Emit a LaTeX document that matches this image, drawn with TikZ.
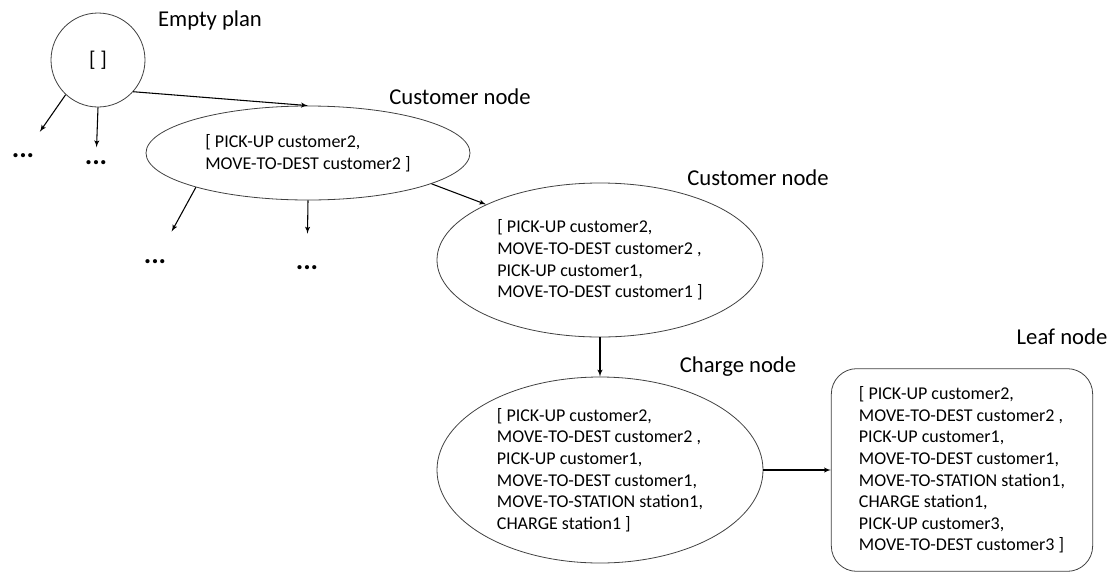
\documentclass[tikz,border=0pt]{standalone}
\usepackage{fontspec}
\setmainfont{Carlito}
\usetikzlibrary{arrows,shapes.geometric}
\newcommand{\plantext}{\fontsize{13.5}{16.2}\selectfont}
\newcommand{\labeltext}{\fontsize{17}{20}\selectfont}
\begin{document}
\begin{tikzpicture}[x=0.75pt,y=-0.75pt]
   \tikzstyle{line} = [-latex', line width=0.8pt]
   \tikzstyle{plan} = [ellipse, draw=black!75, line width=0.6pt, inner sep=0pt, align=left, font=\plantext]
   \tikzstyle{tag} = [font=\labeltext, inner sep=0pt]
   \tikzstyle{more} = [font=\fontsize{21}{24}\selectfont\bfseries, inner sep=0pt]
   \useasboundingbox (0,0) rectangle (1115,572);

   \node [circle, draw=black!75, line width=0.6pt, minimum size=70.5pt, inner sep=0pt,
          font=\fontsize{16}{19}\selectfont] (empty) at (98,60) {[ ]};
   \node [plan, minimum width=243pt, minimum height=70.5pt] (cust1) at (308,153)
      {[ PICK-UP customer2,\\MOVE-TO-DEST customer2 ]};
   \node [plan, minimum width=244.5pt, minimum height=115.5pt] (cust2) at (600,260)
      {[ PICK-UP customer2,\\MOVE-TO-DEST customer2 ,\\PICK-UP customer1,\\MOVE-TO-DEST customer1 ]};
   \node [plan, minimum width=244.5pt, minimum height=139.5pt] (charge) at (600,470)
      {[ PICK-UP customer2,\\MOVE-TO-DEST customer2 ,\\PICK-UP customer1,\\MOVE-TO-DEST customer1,\\MOVE-TO-STATION station1,\\CHARGE station1 ]};
   \node [rectangle, rounded corners=19pt, draw=black!75, line width=0.6pt, inner sep=0pt,
          align=left, font=\plantext, minimum width=196pt, minimum height=152pt] (leaf) at (962,470)
      {[ PICK-UP customer2,\\MOVE-TO-DEST customer2 ,\\PICK-UP customer1,\\MOVE-TO-DEST customer1,\\MOVE-TO-STATION station1,\\CHARGE station1,\\PICK-UP customer3,\\MOVE-TO-DEST customer3 ]};

   \node [tag] (emptytag) at (210,20) {Empty plan};
   \node [tag] (cust1tag) at (460,97) {Customer node};
   \node [tag] (cust2tag) at (758,178) {Customer node};
   \node [tag] (chargetag) at (738,367) {Charge node};
   \node [tag] (leaftag) at (1062,337) {Leaf node};

   \node [more] (d1) at (23,156) {...};
   \node [more] (d2) at (96,163) {...};
   \node [more] (d3) at (155,262) {...};
   \node [more] (d4) at (307,268) {...};

   \path [line] (empty.-133) edge [shorten >=20pt] (d1);
   \path [line] (empty.south) edge [shorten >=10pt] (d2);
   \path [line] (empty.-42) edge (cust1.north);

   \path [line] (cust1.-163) edge [shorten >=24pt] (d3);
   \path [line] (cust1.south) edge [shorten >=24pt] (d4);
   \path [line] (cust1.-14) edge (cust2.154);

   \path [line] (cust2.south) edge (charge.north);
   \path [line] (charge) edge (leaf);

 \end{tikzpicture}
\end{document}
